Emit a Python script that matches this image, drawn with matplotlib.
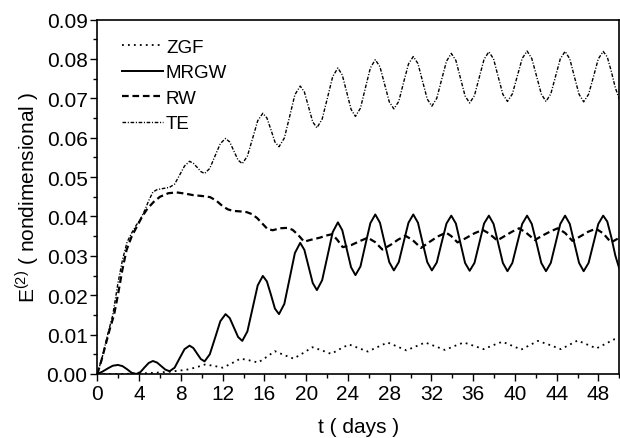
import matplotlib
matplotlib.use("Agg")
import matplotlib.pyplot as plt
from matplotlib.ticker import MultipleLocator, FormatStrFormatter

plt.rcParams['font.family'] = ['Liberation Sans', 'DejaVu Sans']

# shared time grid (days) for MRGW and TE
t = [0, 0.49, 0.99, 1.48, 1.97, 2.41, 2.85, 3.29, 3.73, 4.13, 4.53, 4.92, 5.32,
     5.72, 6.12, 6.52, 6.92, 7.40, 7.88, 8.35, 8.83, 9.19, 9.55, 9.91, 10.27,
     10.77, 11.28, 11.78, 12.28, 12.68, 13.08, 13.48, 13.88, 14.37, 14.87, 15.36,
     15.85, 16.24, 16.63, 17.01, 17.40, 17.91, 18.42, 18.92, 19.43, 19.83, 20.23,
     20.63, 21.03, 21.53, 22.04, 22.54, 23.04, 23.46, 23.88, 24.30, 24.72, 25.20,
     25.67, 26.15, 26.62, 27.07, 27.51, 27.96, 28.40, 28.87, 29.33, 29.80, 30.26,
     30.71, 31.15, 31.60, 32.04, 32.51, 32.97, 33.44, 33.90, 34.34, 34.78, 35.22,
     35.66, 36.12, 36.58, 37.04, 37.50, 37.95, 38.39, 38.84, 39.28, 39.75, 40.22,
     40.69, 41.16, 41.61, 42.07, 42.52, 42.97, 43.43, 43.89, 44.34, 44.80, 45.25,
     45.69, 46.14, 46.58, 47.05, 47.52, 47.98, 48.45, 48.84, 49.23, 49.61, 50.00]

mrgw = [0,
        0.0006, 0.0014, 0.0021, 0.0023,
        0.0020, 0.0012, 0.0003, 0.0000,
        0.0005, 0.0017, 0.0028, 0.0033,
        0.0029, 0.0020, 0.0011, 0.0007,
        0.0016, 0.0040, 0.0063, 0.0072,
        0.0066, 0.0052, 0.0038, 0.0032,
        0.0050, 0.0092, 0.0134, 0.0152,
        0.0142, 0.0118, 0.0094, 0.0084,
        0.0108, 0.0167, 0.0225, 0.0249,
        0.0235, 0.0201, 0.0166, 0.0152,
        0.0178, 0.0243, 0.0307, 0.0333,
        0.0315, 0.0273, 0.0231, 0.0213,
        0.0238, 0.0299, 0.0360, 0.0385,
        0.0365, 0.0318, 0.0271, 0.0251,
        0.0273, 0.0328, 0.0383, 0.0405,
        0.0384, 0.0334, 0.0284, 0.0263,
        0.0284, 0.0334, 0.0384, 0.0405,
        0.0384, 0.0334, 0.0284, 0.0263,
        0.0283, 0.0333, 0.0382, 0.0402,
        0.0382, 0.0332, 0.0282, 0.0262,
        0.0282, 0.0332, 0.0382, 0.0402,
        0.0381, 0.0332, 0.0282, 0.0261,
        0.0282, 0.0332, 0.0381, 0.0402,
        0.0381, 0.0332, 0.0282, 0.0261,
        0.0282, 0.0332, 0.0381, 0.0402,
        0.0381, 0.0332, 0.0282, 0.0261,
        0.0282, 0.0332, 0.0381, 0.0402,
        0.0387, 0.0347, 0.0301, 0.0267]

te = [0,
      0.0045, 0.0100, 0.0150, 0.0230,
      0.0290, 0.0335, 0.0358, 0.0378,
      0.0393, 0.0415, 0.0440, 0.0462,
      0.0468, 0.0470, 0.0472, 0.0474,
      0.0482, 0.0505, 0.0528, 0.0540,
      0.0535, 0.0525, 0.0514, 0.0509,
      0.0522, 0.0554, 0.0585, 0.0598,
      0.0589, 0.0566, 0.0543, 0.0534,
      0.0553, 0.0598, 0.0643, 0.0662,
      0.0650, 0.0620, 0.0589, 0.0577,
      0.0599, 0.0654, 0.0709, 0.0731,
      0.0716, 0.0678, 0.0640, 0.0625,
      0.0647, 0.0701, 0.0755, 0.0777,
      0.0759, 0.0716, 0.0672, 0.0654,
      0.0675, 0.0726, 0.0777, 0.0798,
      0.0780, 0.0736, 0.0691, 0.0673,
      0.0692, 0.0740, 0.0787, 0.0806,
      0.0788, 0.0743, 0.0698, 0.0680,
      0.0700, 0.0747, 0.0794, 0.0814,
      0.0796, 0.0751, 0.0706, 0.0688,
      0.0707, 0.0753, 0.0799, 0.0818,
      0.0800, 0.0755, 0.0710, 0.0692,
      0.0711, 0.0756, 0.0801, 0.0820,
      0.0801, 0.0756, 0.0711, 0.0692,
      0.0711, 0.0756, 0.0800, 0.0819,
      0.0800, 0.0755, 0.0710, 0.0691,
      0.0710, 0.0755, 0.0800, 0.0819,
      0.0805, 0.0768, 0.0727, 0.0697]

t_rw = [0, 0.4, 0.8, 1.2, 1.6, 2.0, 2.4, 2.8, 3.3, 3.8, 4.3, 4.8, 5.4, 6.0, 6.8,
        7.6, 8.4, 9.2, 10.0, 10.8, 11.4, 12.0, 12.5, 13.0, 13.6, 14.3, 14.8, 15.3,
        15.8, 16.3, 16.8, 17.5, 18.2, 18.7, 19.2, 19.8, 20.5, 21.3, 22.0, 22.5,
        23.0, 23.5, 24.3, 25.1, 25.9, 26.6, 27.3, 28.1, 28.8, 29.5, 30.2, 31.0,
        31.8, 32.6, 33.4, 33.9, 34.5, 35.3, 36.1, 36.9, 37.5, 38.3, 39.0, 39.7,
        40.4, 41.1, 41.9, 42.6, 43.4, 44.1, 44.8, 45.5, 46.3, 47.0, 47.75, 48.45,
        49.2, 50.0]
rw = [0, 0.0035, 0.0075, 0.0115, 0.0150, 0.0205, 0.0265, 0.0315, 0.0350, 0.0375,
      0.0400, 0.0420, 0.0437, 0.0450, 0.0459, 0.0461, 0.0458, 0.0454, 0.0452,
      0.0449, 0.0440, 0.0426, 0.0418, 0.0414, 0.0413, 0.0411, 0.0406, 0.0396,
      0.0382, 0.0368, 0.0365, 0.0370, 0.0371, 0.0366, 0.0354, 0.0336, 0.0341,
      0.0346, 0.0352, 0.0355, 0.0340, 0.0322, 0.0327, 0.0337, 0.0346, 0.0335,
      0.0316, 0.0328, 0.0341, 0.0351, 0.0340, 0.0320, 0.0335, 0.0349, 0.0359,
      0.0350, 0.0334, 0.0345, 0.0357, 0.0366, 0.0357, 0.0339, 0.0350, 0.0361,
      0.0370, 0.0358, 0.0340, 0.0351, 0.0362, 0.0370, 0.0358, 0.0338, 0.0350,
      0.0361, 0.0369, 0.0357, 0.0334, 0.0346]

t_zgf = [0, 2.0, 3.7, 5.5, 7.0, 8.0, 8.8, 9.6, 10.3, 11.1, 12.0, 12.8, 13.7, 14.5,
         15.4, 16.2, 17.0, 17.9, 18.8, 19.7, 20.6, 21.5, 22.4, 23.2, 24.1, 25.0,
         25.9, 26.8, 27.8, 28.7, 29.6, 30.5, 31.4, 32.3, 33.3, 34.2, 35.1, 36.0,
         37.0, 37.9, 38.8, 39.7, 40.6, 41.4, 42.2, 43.3, 44.4, 45.2, 46.0, 46.9,
         47.8, 48.7, 49.5, 50.0]
zgf = [0, 0.0000, 0.0001, 0.0003, 0.0006, 0.0009, 0.0012, 0.0018, 0.0024, 0.0021,
       0.0016, 0.0026, 0.0039, 0.0035, 0.0029, 0.0043, 0.0058, 0.0048, 0.0039,
       0.0053, 0.0068, 0.0060, 0.0051, 0.0063, 0.0075, 0.0066, 0.0057, 0.0068,
       0.0080, 0.0070, 0.0060, 0.0070, 0.0080, 0.0071, 0.0061, 0.0071, 0.0080,
       0.0072, 0.0063, 0.0073, 0.0082, 0.0072, 0.0062, 0.0073, 0.0084, 0.0074,
       0.0063, 0.0074, 0.0085, 0.0075, 0.0065, 0.0077, 0.0088, 0.0086]

x_ticks = [0, 4, 8, 12, 16, 20, 24, 28, 32, 36, 40, 44, 48]

fig = plt.figure(figsize=(6.2, 4.39), dpi=100)
ax = fig.add_axes([0.157, 0.1458, 0.842, 0.8075])

ax.plot(t_zgf, zgf, color='black', lw=1.3, linestyle=(0, (1, 2.3)), label='ZGF')
ax.plot(t, mrgw, color='black', lw=1.4, linestyle='-', solid_joinstyle='round',
        label='MRGW')
ax.plot(t_rw, rw, color='black', lw=1.6, linestyle=(0, (3.0, 1.7)), label='RW')
ax.plot(t, te, color='black', lw=1.0, linestyle=(0, (2.6, 1.2, 0.8, 1.2)), label='TE')

ax.set_xlim(0, 50)
ax.set_ylim(0, 0.09)
ax.set_xticks(x_ticks)
ax.xaxis.set_minor_locator(MultipleLocator(2))
ax.yaxis.set_major_locator(MultipleLocator(0.01))
ax.yaxis.set_minor_locator(MultipleLocator(0.005))
ax.yaxis.set_major_formatter(FormatStrFormatter('%.2f'))
ax.tick_params(which='both', direction='out', top=False, right=False,
               labelsize=15, width=1.0, pad=2)
ax.tick_params(which='major', length=5)
ax.tick_params(which='minor', length=3)
for s in ax.spines.values():
    s.set_linewidth(1.2)

ax.set_xlabel('t ( days )', fontsize=15, labelpad=10)
ax.set_ylabel(r'E$^{\mathregular{(2)}}$ ( nondimensional )', fontsize=15, labelpad=4)

ax.legend(loc='upper left', bbox_to_anchor=(0.047, 0.946), frameon=False,
          fontsize=13.5, handlelength=2.2, handletextpad=0.15, labelspacing=0.45,
          borderpad=0, borderaxespad=0)

fig.savefig('out.png', dpi=100)
